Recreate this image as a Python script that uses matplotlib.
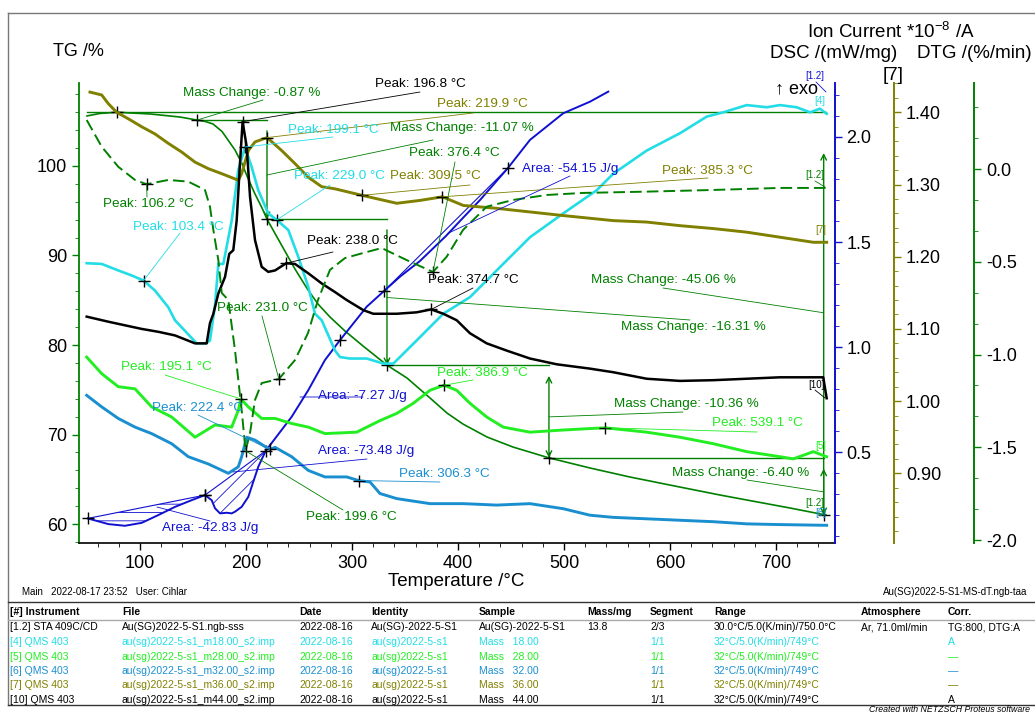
import numpy as np
import matplotlib.pyplot as plt
from matplotlib.ticker import MultipleLocator, FormatStrFormatter
from matplotlib.lines import Line2D
from matplotlib.patches import ConnectionPatch

plt.rcParams['font.family'] = ['Liberation Sans', 'DejaVu Sans']
plt.rcParams['mathtext.default'] = 'regular'
plt.rcParams['hatch.linewidth'] = 0.6

W, H = 1035, 713

# colours
c_tg = '#008000'
c_dsc = '#1010d0'
c_cyan = '#22dde6'
c_lime = '#22ee22'
c_sky = '#1a8fd0'
c_olive = '#808000'
c_black = '#000000'

# ---- STA [1.2]: TG, DTG, DSC ----
tg_T = [50.0, 62.3, 78.3, 109.4, 137.7, 153.8, 161.3, 168.9, 177.4, 189.6, 196.2, 200.0, 203.8,
        208.5, 215.1, 219.8, 234.0, 246.2, 258.5, 267.9, 279.2, 293.4, 310.4, 333.0, 351.9, 373.6,
        389.6, 404.7, 427.4, 451.9, 485.8, 524.5, 562.3, 609.4, 647.2, 672.6, 713.2, 747.2]
tg_val = [105.59, 105.87, 106.00, 105.81, 105.47, 105.13, 104.98, 104.69, 103.85, 101.79, 100.28,
          99.16, 98.10, 96.87, 95.31, 94.06, 91.06, 88.49, 86.15, 84.58, 83.13, 81.56, 79.89, 77.75,
          76.31, 74.08, 72.40, 71.17, 69.72, 68.60, 67.39, 66.26, 65.25, 64.13, 63.24, 62.68, 61.79, 61.0]

dtg_T = [49.7, 63.9, 79.5, 95.3, 106.2, 126.7, 145.6, 161.3, 166.0, 169.2, 173.9, 177.1, 183.3,
         189.6, 195.9, 199.6, 203.8, 208.5, 214.8, 231.0, 246.2, 258.5, 267.9, 279.2, 293.4, 310.4,
         328.0, 351.6, 376.4, 389.3, 404.7, 427.1, 451.9, 483.7, 517.9, 578.0, 640.6, 703.8, 747.2]
dtg_val = [0.264, 0.120, 0.012, -0.059, -0.082, -0.059, -0.068, -0.113, -0.203, -0.329, -0.491,
           -0.668, -0.706, -0.976, -1.299, -1.519, -1.423, -1.245, -1.154, -1.132, -1.030, -0.884,
           -0.706, -0.544, -0.480, -0.453, -0.426, -0.491, -0.555, -0.473, -0.329, -0.203, -0.167,
           -0.140, -0.129, -0.122, -0.113, -0.102, -0.102]

dsc_T = np.array([50.7, 70.1, 85.8, 101.6, 117.3, 133.0, 148.8, 161.3, 167.6, 170.8, 175.5, 181.8,
                  186.5, 189.6, 195.9, 202.2, 206.9, 211.6, 218.6, 243.1, 258.8, 274.5, 288.7, 313.9,
                  330.5, 345.3, 364.2, 388.7, 401.9, 420.8, 446.9, 467.9, 499.3, 524.5, 541.8])
dsc_val = np.array([0.184, 0.157, 0.149, 0.163, 0.200, 0.239, 0.271, 0.295, 0.271, 0.232, 0.208,
                    0.211, 0.208, 0.216, 0.239, 0.287, 0.359, 0.430, 0.506, 0.668, 0.795, 0.938,
                    1.033, 1.192, 1.268, 1.335, 1.410, 1.529, 1.600, 1.700, 1.851, 1.986, 2.113,
                    2.168, 2.216])

# mass change steps
tg_start = 106.0
mc_T = [153.8, 219.8, 333.0, 485.8, 745.0]
mc_val = [-0.87, -11.07, -16.31, -10.36, -6.40]
mc_total = -45.06

# DSC peak areas
area_lim = [(50.7, 161.3), (161.3, 218.6), (330.5, 446.9)]
area_val = [-42.83, -73.48, -54.15]

# ---- QMS 403 ion currents ----
ms18_T = [49.7, 63.9, 79.5, 92.2, 103.4, 114.2, 126.7, 133.0, 153.5, 162.3, 166.0, 170.8, 173.9,
          178.6, 186.5, 192.7, 199.1, 205.4, 211.6, 221.0, 229.0, 239.9, 249.3, 258.8, 265.1, 271.4,
          284.0, 288.7, 298.1, 313.9, 329.5, 339.0, 361.0, 386.1, 411.3, 436.5, 467.9, 499.3, 530.8,
          546.5, 578.0, 609.4, 634.6, 650.3, 672.4, 691.2, 703.8, 719.5, 732.1, 741.5, 747.8]
ms18 = [1.191, 1.190, 1.181, 1.174, 1.167, 1.153, 1.130, 1.112, 1.080, 1.080, 1.084, 1.133, 1.190,
        1.190, 1.250, 1.320, 1.352, 1.324, 1.292, 1.260, 1.251, 1.237, 1.200, 1.158, 1.121, 1.112,
        1.070, 1.061, 1.059, 1.059, 1.052, 1.052, 1.084, 1.121, 1.144, 1.181, 1.227, 1.260, 1.292,
        1.315, 1.347, 1.371, 1.394, 1.400, 1.410, 1.407, 1.410, 1.407, 1.400, 1.405, 1.398]

ms28_T = [49.7, 63.9, 79.5, 95.3, 111.0, 129.9, 151.9, 170.8, 186.5, 192.7, 195.1, 202.2, 214.8,
          227.4, 243.1, 258.8, 274.5, 304.4, 326.4, 342.2, 357.8, 373.6, 386.9, 398.8, 411.3, 427.1,
          442.7, 467.9, 499.3, 524.5, 539.1, 578.0, 609.4, 640.9, 672.4, 703.8, 716.3, 735.2, 747.8]
ms28 = [1.061, 1.038, 1.020, 1.017, 0.992, 0.978, 0.950, 0.967, 0.964, 0.987, 1.003, 0.992, 0.976,
        0.976, 0.969, 0.964, 0.955, 0.957, 0.973, 0.983, 0.997, 1.015, 1.022, 1.015, 0.997, 0.978,
        0.964, 0.957, 0.960, 0.962, 0.963, 0.957, 0.950, 0.941, 0.930, 0.923, 0.920, 0.930, 0.923]

ms32_T = [49.7, 63.9, 79.5, 95.3, 111.0, 129.9, 145.6, 164.4, 183.3, 192.7, 195.9, 200.7, 208.5,
          222.4, 227.4, 243.1, 258.8, 274.5, 295.0, 306.3, 317.0, 326.4, 342.2, 373.6, 405.0, 436.5,
          467.9, 499.3, 524.5, 546.5, 578.0, 609.4, 640.9, 672.4, 703.8, 747.8]
ms32 = [1.008, 0.992, 0.976, 0.964, 0.955, 0.941, 0.923, 0.913, 0.900, 0.909, 0.923, 0.950, 0.946,
        0.933, 0.936, 0.923, 0.904, 0.895, 0.895, 0.890, 0.888, 0.872, 0.865, 0.858, 0.858, 0.856,
        0.858, 0.851, 0.842, 0.839, 0.837, 0.835, 0.833, 0.830, 0.829, 0.828]

ms36_T = [52.8, 63.9, 70.1, 78.0, 89.0, 101.6, 114.2, 126.7, 139.3, 151.9, 164.4, 177.1, 192.7,
          195.9, 202.2, 208.5, 219.9, 233.7, 246.2, 258.8, 271.4, 284.0, 309.5, 342.2, 364.2, 385.3,
          405.0, 436.5, 467.9, 499.3, 546.5, 578.0, 609.4, 640.9, 672.4, 703.8, 735.2, 747.8]
ms36 = [1.428, 1.424, 1.412, 1.400, 1.391, 1.380, 1.370, 1.357, 1.345, 1.331, 1.322, 1.315, 1.306,
        1.315, 1.347, 1.359, 1.365, 1.347, 1.329, 1.310, 1.297, 1.294, 1.285, 1.274, 1.278, 1.283,
        1.271, 1.267, 1.262, 1.257, 1.250, 1.248, 1.243, 1.239, 1.234, 1.227, 1.220, 1.220]

ms44_T = [49.7, 70.1, 85.8, 101.6, 117.3, 133.0, 151.9, 162.9, 166.0, 169.2, 173.9, 180.2, 184.2,
          188.0, 191.2, 194.3, 196.8, 200.7, 203.8, 208.5, 214.8, 221.0, 227.4, 238.0, 246.2, 258.8,
          271.4, 284.0, 295.0, 310.7, 320.1, 342.2, 361.0, 374.7, 386.1, 398.8, 411.3, 427.1, 445.9,
          467.9, 493.1, 524.5, 546.5, 578.0, 609.4, 640.9, 672.4, 703.8, 741.5, 744.6, 747.8]
ms44 = [1.117, 1.110, 1.105, 1.100, 1.096, 1.091, 1.080, 1.080, 1.108, 1.121, 1.149, 1.172, 1.204,
        1.209, 1.250, 1.329, 1.387, 1.352, 1.283, 1.223, 1.186, 1.179, 1.181, 1.191, 1.190, 1.177,
        1.163, 1.151, 1.140, 1.126, 1.121, 1.121, 1.123, 1.127, 1.121, 1.112, 1.094, 1.080, 1.070,
        1.059, 1.051, 1.045, 1.040, 1.031, 1.028, 1.029, 1.031, 1.033, 1.033, 1.033, 1.004]


def fp(x, y):
    # pixel position -> figure fraction
    return (x / W, 1 - y / H)


fig = plt.figure(figsize=(W / 100, H / 100), dpi=100)
ax = fig.add_axes([79 / W, 1 - 543 / H, (834.5 - 79) / W, (543 - 83) / H])
ax_dsc = ax.twinx()
ax_ms = ax.twinx()
ax_dtg = ax.twinx()

ax.set_xlim(42.45, 755.2)
ax.set_ylim(57.88, 109.27)
ax_dsc.set_ylim(0.067, 2.257)
ax_ms.set_ylim(0.8035, 1.4406)
ax_dtg.set_ylim(-2.016, 0.4636)

ax.patch.set_visible(False)
for a in (ax_dsc, ax_ms, ax_dtg):
    for s in ('top', 'left', 'bottom'):
        a.spines[s].set_visible(False)
ax.spines['top'].set_visible(False)
ax.spines['right'].set_visible(False)
ax.spines['left'].set_color(c_tg)
ax.spines['left'].set_linewidth(1.3)
ax.spines['bottom'].set_linewidth(1.2)

ax_ms.spines['right'].set_position(('axes', (894 - 79) / 755.5))
ax_dtg.spines['right'].set_position(('axes', (974 - 79) / 755.5))
for a, c in ((ax_dsc, c_dsc), (ax_ms, c_olive), (ax_dtg, c_tg)):
    a.spines['right'].set_color(c)
    a.spines['right'].set_linewidth(1.4)
    a.tick_params(axis='y', colors=c, labelcolor='black', labelsize=13, length=5, width=1)
    a.tick_params(axis='y', which='minor', length=3, colors=c)

ax.xaxis.set_major_locator(MultipleLocator(100))
ax.xaxis.set_minor_locator(MultipleLocator(20))
ax.yaxis.set_major_locator(MultipleLocator(10))
ax.yaxis.set_minor_locator(MultipleLocator(2))
ax.tick_params(axis='both', labelsize=13, length=5, width=1)
ax.tick_params(axis='both', which='minor', length=3)
ax.tick_params(axis='y', which='both', colors=c_tg, labelcolor='black')

ax_dsc.yaxis.set_major_locator(MultipleLocator(0.5))
ax_dsc.yaxis.set_minor_locator(MultipleLocator(0.1))
ax_dsc.yaxis.set_major_formatter(FormatStrFormatter('%.1f'))
ax_ms.yaxis.set_major_locator(MultipleLocator(0.1))
ax_ms.yaxis.set_minor_locator(MultipleLocator(0.02))
ax_ms.yaxis.set_major_formatter(FormatStrFormatter('%.2f'))
ax_dtg.yaxis.set_major_locator(MultipleLocator(0.5))
ax_dtg.yaxis.set_minor_locator(MultipleLocator(0.5 / 3))
ax_dtg.yaxis.set_major_formatter(FormatStrFormatter('%.1f'))

# ---- curves ----
ax.plot(tg_T, tg_val, color=c_tg, lw=1.2)
ax_dtg.plot(dtg_T, dtg_val, color=c_tg, lw=1.4, dashes=(6, 2.6))
ax_dsc.plot(dsc_T, dsc_val, color=c_dsc, lw=1.4)
ax_ms.plot(ms18_T, ms18, color=c_cyan, lw=1.9)
ax_ms.plot(ms28_T, ms28, color=c_lime, lw=2.1)
ax_ms.plot(ms32_T, ms32, color=c_sky, lw=2.1)
ax_ms.plot(ms36_T, ms36, color=c_olive, lw=2.1)
ax_ms.plot(ms44_T, ms44, color=c_black, lw=1.8)

# DSC areas with hatched fill and straight baseline
for (t0, t1), hatch in zip(area_lim, ['--', '//', '//']):
    m = (dsc_T >= t0) & (dsc_T <= t1)
    tt, yy = dsc_T[m], dsc_val[m]
    base = np.interp(tt, [tt[0], tt[-1]], [yy[0], yy[-1]])
    ax_dsc.fill_between(tt, yy, base, facecolor='none', edgecolor=c_dsc, hatch=hatch, linewidth=0)
    ax_dsc.plot([tt[0], tt[-1]], [yy[0], yy[-1]], color=c_dsc, lw=0.8)
    ax_dsc.plot([tt[0], tt[-1]], [yy[0], yy[-1]], '+', color='k', ms=9, mew=1)

# mass change construction
levels = tg_start + np.cumsum(mc_val)
ax.plot([tg_T[0], tg_T[-1]], [tg_start, tg_start], color=c_tg, lw=1)
ax.plot([78.3], [tg_start], '+', color='k', ms=9, mew=1)
for i in range(len(mc_T)):
    if i < len(mc_T) - 1:
        ax.plot([mc_T[i], mc_T[i + 1]], [levels[i], levels[i]], color=c_tg, lw=1)
    ax.plot([mc_T[i]], [levels[i]], '+', color='k', ms=9, mew=1)
    if i >= 1:
        top = levels[i - 1] - 1.2
        style = '->' if i < 3 else '<->'
        ax.annotate('', xy=(mc_T[i], levels[i]), xytext=(mc_T[i], top),
                    arrowprops=dict(arrowstyle=style, color=c_tg, lw=1, shrinkA=0, shrinkB=0))
ax.annotate('', xy=(mc_T[-1], levels[-1] - mc_total - 4.6), xytext=(mc_T[-1], levels[-1]),
            arrowprops=dict(arrowstyle='->', color=c_tg, lw=1, shrinkA=0, shrinkB=0))

# peak markers
peaks = [
    (ax_dtg, [106.2, 199.6, 231.0, 376.4], [-0.082, -1.519, -1.132, -0.555]),
    (ax_ms, [196.8, 238.0, 374.7], [1.387, 1.191, 1.127]),
    (ax_ms, [103.4, 199.1, 229.0], [1.167, 1.352, 1.251]),
    (ax_ms, [219.9, 309.5, 385.3], [1.365, 1.285, 1.283]),
    (ax_ms, [195.1, 386.9, 539.1], [1.003, 1.022, 0.963]),
    (ax_ms, [222.4, 306.3], [0.933, 0.890]),
    (ax_dsc, [288.7], [1.033]),
]
for a, px, py in peaks:
    a.plot(px, py, '+', color='k', ms=9, mew=1, zorder=6)


def label(text, pos, color, anchor=None, end=None, size=9.7):
    fig.text(*fp(*pos), text, color=color, fontsize=size, va='center', ha='left')
    if anchor is not None:
        a, x, y = anchor
        if a is None:
            cp = ConnectionPatch(xyA=fp(x, y), coordsA='figure fraction', xyB=fp(*end),
                                 coordsB='figure fraction', color=color, lw=0.6)
        else:
            cp = ConnectionPatch(xyA=(x, y), coordsA=a.transData, xyB=fp(*end),
                                 coordsB='figure fraction', color=color, lw=0.6)
        fig.add_artist(cp)


mid = lambda i: (levels[i - 1] - 1.2 + levels[i]) / 2
label(f'Mass Change: {mc_val[0]:.2f} %', (183, 93), c_tg, (ax, mc_T[0], levels[0]), (263, 100))
label('Peak: 196.8 °C', (375, 84), c_black, (ax_ms, 196.8, 1.387), (420, 92))
label('Peak: 219.9 °C', (437, 104), c_olive, (ax_ms, 219.9, 1.365), (473, 113))
label('Peak: 199.1 °C', (288, 130), c_cyan, (ax_ms, 199.1, 1.352), (333, 137))
label(f'Mass Change: {mc_val[1]:.2f} %', (390, 128), c_tg, (ax, mc_T[1], mid(1)), (433, 140))
label('Peak: 376.4 °C', (409, 153), c_tg, (ax_dtg, 376.4, -0.555), (455, 162))
label('Peak: 229.0 °C', (294, 176), c_cyan, (ax_ms, 229.0, 1.251), (330, 185))
label('Peak: 309.5 °C', (390, 176), c_olive, (ax_ms, 309.5, 1.285), (470, 185))
label('Peak: 385.3 °C', (662, 171), c_olive, (ax_ms, 385.3, 1.283), (708, 178))
label('Peak: 106.2 °C', (103, 204), c_tg, (ax_dtg, 106.2, -0.082), (147, 197))
label('Peak: 103.4 °C', (133, 227), c_cyan, (ax_ms, 103.4, 1.167), (180, 233))
label('Peak: 238.0 °C', (307, 241), c_black, (ax_ms, 238.0, 1.191), (333, 252))
label('Peak: 374.7 °C', (428, 280), c_black, (ax_ms, 374.7, 1.127), (473, 288))
label(f'Area: {area_val[2]:.2f} J/g', (522, 169), c_dsc, (ax_dsc, 390.0, 1.54), (570, 176))
label(f'Mass Change: {mc_total:.2f} %', (591, 280), c_tg, (ax, mc_T[-1], 83.6), (663, 288))
label(f'Mass Change: {mc_val[2]:.2f} %', (621, 327), c_tg, (ax, mc_T[2], mid(2)), (690, 320))
label('Peak: 231.0 °C', (217, 308), c_tg, (ax_dtg, 231.0, -1.132), (262, 316))
label('Peak: 195.1 °C', (121, 367), c_lime, (ax_ms, 195.1, 1.003), (165, 375))
label('Peak: 386.9 °C', (437, 373), c_lime, (ax_ms, 386.9, 1.022), (473, 380))
label('Area: -7.27 J/g', (318, 396), c_dsc, (None, 300, 397), (363, 397))
label(f'Mass Change: {mc_val[3]:.2f} %', (614, 404), c_tg, (ax, mc_T[3], mid(3)), (683, 412))
label('Peak: 222.4 °C', (152, 408), c_sky, (ax_ms, 222.4, 0.933), (198, 415))
label('Peak: 539.1 °C', (712, 423), c_lime, (ax_ms, 539.1, 0.963), (757, 432))
label(f'Area: {area_val[1]:.2f} J/g', (318, 451), c_dsc, (None, 233, 472), (367, 459))
label('Peak: 306.3 °C', (399, 474), c_sky, (ax_ms, 306.3, 0.890), (440, 482))
label(f'Mass Change: {mc_val[4]:.2f} %', (672, 473), c_tg, (ax, mc_T[4], mid(4)), (747, 480))
label('Peak: 199.6 °C', (306, 517), c_tg, (ax_dtg, 199.6, -1.519), (343, 510))
label(f'Area: {area_val[0]:.2f} J/g', (162, 528), c_dsc, (None, 157, 507), (210, 521))

# curve tags at the right end
label('[1.2]', (805, 76), c_dsc, (None, 816, 82), (826, 92), size=7)
label('[4]', (814, 101), c_cyan, size=7)
label('[1.2]', (805, 175), c_tg, (None, 815, 181), (825, 187), size=7)
label('[7]', (815, 230), c_olive, size=7)
label('[10]', (808, 385), c_black, (None, 815, 390), (825, 398), size=7)
label('[5]', (815, 446), c_lime, size=7)
label('[1.2]', (805, 503), c_tg, size=7)
label('[6]', (815, 513), c_sky, size=7)
fig.text(*fp(775, 89), '↑ exo', fontsize=13, va='center')

# axis titles
fig.text(*fp(53, 52), 'TG /%', fontsize=13, va='center')
fig.text(*fp(891, 32), 'Ion Current *10$^{-8}$ /A', fontsize=13.5, va='center', ha='center')
fig.text(*fp(834, 53), 'DSC /(mW/mg)', fontsize=13.5, va='center', ha='center')
fig.text(*fp(974, 53), 'DTG /(%/min)', fontsize=13.5, va='center', ha='center')
fig.text(*fp(893, 75), '[7]', fontsize=13.5, va='center', ha='center')
fig.text(*fp(456, 581), 'Temperature /°C', fontsize=13.5, va='center', ha='center')

# footer
fig.text(*fp(22, 592), 'Main   2022-08-17 23:52   User: Cihlar', fontsize=7, va='center')
fig.text(*fp(1027, 592), 'Au(SG)2022-5-S1-MS-dT.ngb-taa', fontsize=7, va='center', ha='right')

# frame and table lines
for (x0, y0, x1, y1, c) in [(8, 13, 1035, 13, '#777777'), (8, 13, 8, 705, '#777777'),
                            (8, 602, 1035, 602, '#333333'), (8, 620, 1035, 620, '#aaaaaa'),
                            (8, 705, 1035, 705, '#333333')]:
    fig.add_artist(Line2D([x0 / W, x1 / W], [1 - y0 / H, 1 - y1 / H], color=c, lw=1))

col_x = [10, 122, 299, 371, 479, 587, 650, 714, 861, 948]
header = ['[#] Instrument', 'File', 'Date', 'Identity', 'Sample', 'Mass/mg', 'Segment', 'Range',
          'Atmosphere', 'Corr.']
rows = [
    ['[1.2] STA 409C/CD', 'Au(SG)2022-5-S1.ngb-sss', '2022-08-16', 'Au(SG)-2022-5-S1',
     'Au(SG)-2022-5-S1', '13.8', '2/3', '30.0°C/5.0(K/min)/750.0°C', 'Ar, 71.0ml/min', 'TG:800, DTG:A'],
    ['[4] QMS 403', 'au(sg)2022-5-s1_m18.00_s2.imp', '2022-08-16', 'au(sg)2022-5-s1', 'Mass   18.00',
     '', '1/1', '32°C/5.0(K/min)/749°C', '', 'A'],
    ['[5] QMS 403', 'au(sg)2022-5-s1_m28.00_s2.imp', '2022-08-16', 'au(sg)2022-5-s1', 'Mass   28.00',
     '', '1/1', '32°C/5.0(K/min)/749°C', '', '—'],
    ['[6] QMS 403', 'au(sg)2022-5-s1_m32.00_s2.imp', '2022-08-16', 'au(sg)2022-5-s1', 'Mass   32.00',
     '', '1/1', '32°C/5.0(K/min)/749°C', '', '—'],
    ['[7] QMS 403', 'au(sg)2022-5-s1_m36.00_s2.imp', '2022-08-16', 'au(sg)2022-5-s1', 'Mass   36.00',
     '', '1/1', '32°C/5.0(K/min)/749°C', '', '—'],
    ['[10] QMS 403', 'au(sg)2022-5-s1_m44.00_s2.imp', '2022-08-16', 'au(sg)2022-5-s1', 'Mass   44.00',
     '', '1/1', '32°C/5.0(K/min)/749°C', '', 'A'],
]
row_colors = [c_black, c_cyan, c_lime, c_sky, c_olive, c_black]
row_y = [627, 642, 657, 671, 685, 700]
for x, h in zip(col_x, header):
    fig.text(*fp(x, 612), h, fontsize=7.5, fontweight='bold', va='center')
for r, c, y in zip(rows, row_colors, row_y):
    for x, s in zip(col_x, r):
        fig.text(*fp(x, y), s, fontsize=7.5, color=c, va='center')
fig.text(*fp(1030, 709), 'Created with NETZSCH Proteus software', fontsize=6.3, style='italic',
         va='center', ha='right')

fig.savefig('out.png', dpi=100)
